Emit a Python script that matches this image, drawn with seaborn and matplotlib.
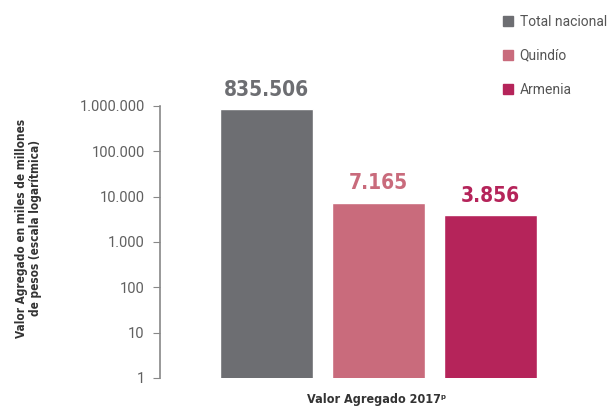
import seaborn as sns
import matplotlib.pyplot as plt
import pandas as pd

# data
categorias = ["Total nacional", "Quindío", "Armenia"]
valores = [835506, 7165, 3856]
etiquetas = ["835.506", "7.165", "3.856"]
colores = ["#6d6e72", "#c96b7c", "#b5245a"]
ticks = [1, 10, 100, 1000, 10000, 100000, 1000000]
tick_labels = ["1", "10", "100", "1.000", "10.000", "100.000", "1.000.000"]

sns.set_style("white")
plt.rcParams["font.family"] = ["Roboto", "DejaVu Sans"]
cond = dict(family="DejaVu Sans", fontstretch="condensed", fontweight="bold")

df = pd.DataFrame({"grupo": categorias, "valor": valores})

fig = plt.figure(figsize=(6.13, 4.09), dpi=100)
ax = fig.add_axes([0.261, 0.076, 0.64, 0.665])
ax.set_yscale("log")

sns.barplot(data=df, x="grupo", y="valor", hue="grupo", palette=colores,
            width=0.83, saturation=1, ax=ax)

ax.set_ylim(1, 1000000)
ax.set_xlim(-0.95, 2.55)
ax.set_yticks(ticks)
ax.set_yticklabels(tick_labels, fontsize=10.5, color="#606060")
ax.minorticks_off()
ax.set_xticks([])
ax.tick_params(axis="y", length=5, color="#888888", left=True, pad=6)

for s in ["top", "right", "bottom"]:
    ax.spines[s].set_visible(False)
ax.spines["left"].set_color("#888888")
ax.spines["left"].set_linewidth(1.2)

for cont, lab, col in zip(ax.containers, etiquetas, colores):
    ax.bar_label(cont, labels=[lab], padding=7, fontsize=15, color=col, **cond)

ax.set_xlabel("Valor Agregado 2017ᵖ", fontsize=9, color="#333333", **cond)
ax.xaxis.set_label_coords(0.553, -0.055)
ax.set_ylabel("Valor Agregado en miles de millones\nde pesos (escala logarítmica)",
              fontsize=8.5, color="#333333", linespacing=1.1, **cond)
ax.yaxis.set_label_coords(-0.30, 0.55)

handles = [plt.Rectangle((0, 0), 1, 1, color=c) for c in colores]
fig.legend(handles, categorias, loc="upper left", bbox_to_anchor=(0.8, 0.995),
           frameon=False, fontsize=10, handlelength=0.7, handleheight=0.7,
           handletextpad=0.5, labelspacing=1.45, labelcolor="#555555")

fig.savefig("out.png", dpi=100)
